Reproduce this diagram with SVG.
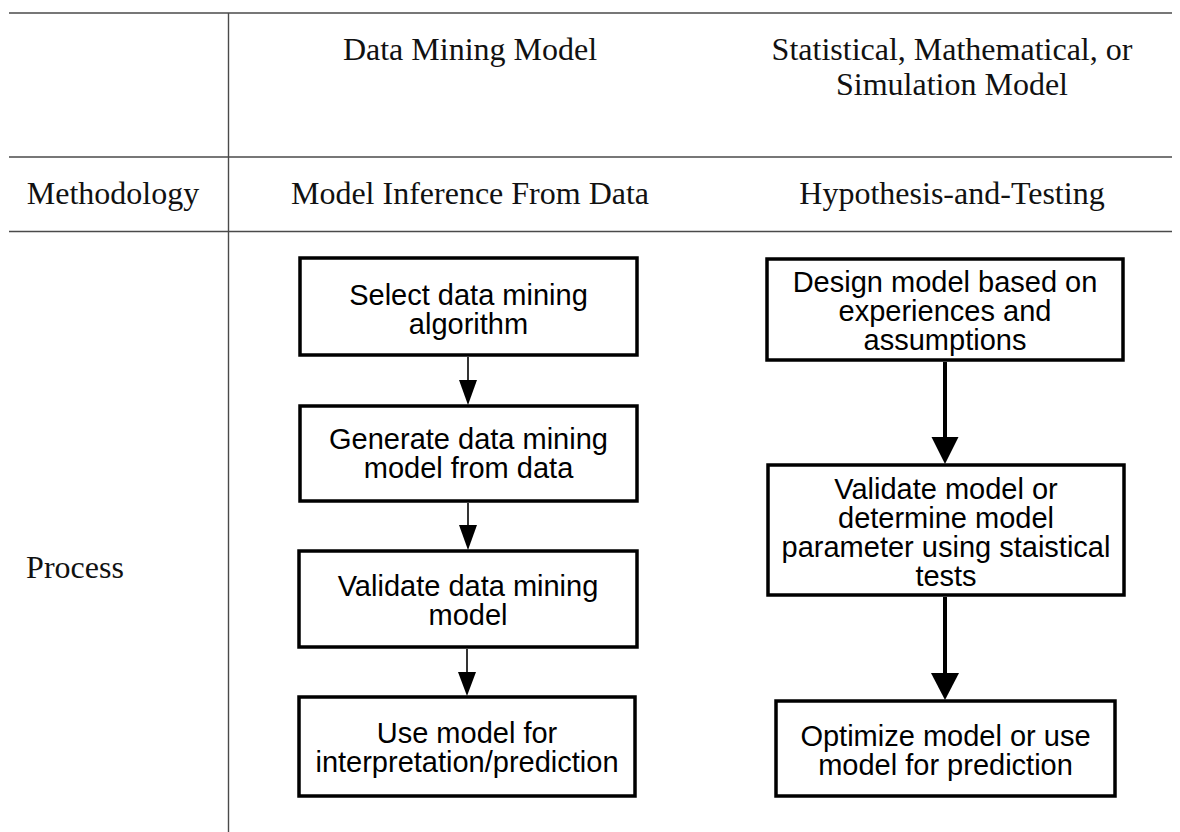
<svg xmlns="http://www.w3.org/2000/svg" width="1180" height="832" viewBox="0 0 1180 832">
  <defs>
    <style>
      .rule { stroke: #4a4a4a; stroke-width: 1.4; fill: none; }
      .cell { font-family: "Liberation Serif", "Times New Roman", serif; font-size: 32px; fill: #111; text-anchor: middle; }
      .box { fill: #fff; stroke: #000; stroke-width: 3.5; }
      .lbl { font-family: "Liberation Sans", Arial, sans-serif; font-size: 29px; fill: #000; text-anchor: middle; }
      .thin { stroke: #000; stroke-width: 1.6; fill: none; }
      .thick { stroke: #000; stroke-width: 4; fill: none; }
    </style>
  </defs>
  <rect width="1180" height="832" fill="#fff"/>

  <!-- table rules -->
  <g id="table">
    <line class="rule" x1="9" y1="13" x2="1172" y2="13"/>
    <line class="rule" x1="9" y1="157" x2="1172" y2="157"/>
    <line class="rule" x1="9" y1="231.5" x2="1172" y2="231.5"/>
    <line class="rule" x1="228.5" y1="13" x2="228.5" y2="832"/>
  </g>

  <!-- table cell texts -->
  <g id="headers">
    <text class="cell" x="470" y="60">Data Mining Model</text>
    <text class="cell" x="952" y="60">Statistical, Mathematical, or</text>
    <text class="cell" x="952" y="95">Simulation Model</text>
    <text class="cell" x="113" y="204">Methodology</text>
    <text class="cell" x="470" y="204">Model Inference From Data</text>
    <text class="cell" x="952" y="204">Hypothesis-and-Testing</text>
    <text class="cell" x="75" y="578">Process</text>
  </g>

  <!-- data mining flow -->
  <g id="dm-select">
    <rect class="box" x="300" y="258" width="337" height="97"/>
    <text class="lbl" x="468.5" y="305">Select data mining</text>
    <text class="lbl" x="468.5" y="334">algorithm</text>
  </g>
  <g id="dm-generate">
    <rect class="box" x="300" y="406" width="337" height="95"/>
    <text class="lbl" x="468.5" y="449">Generate data mining</text>
    <text class="lbl" x="468.5" y="478">model from data</text>
  </g>
  <g id="dm-validate">
    <rect class="box" x="299" y="551" width="338" height="96"/>
    <text class="lbl" x="468" y="596">Validate data mining</text>
    <text class="lbl" x="468" y="625">model</text>
  </g>
  <g id="dm-use">
    <rect class="box" x="299" y="697" width="336" height="99"/>
    <text class="lbl" x="467" y="743">Use model for</text>
    <text class="lbl" x="467" y="772">interpretation/prediction</text>
  </g>

  <!-- hypothesis-and-testing flow -->
  <g id="ht-design">
    <rect class="box" x="767" y="259" width="356" height="101"/>
    <text class="lbl" x="945" y="292">Design model based on</text>
    <text class="lbl" x="945" y="321">experiences and</text>
    <text class="lbl" x="945" y="350">assumptions</text>
  </g>
  <g id="ht-validate">
    <rect class="box" x="768" y="465" width="356" height="130"/>
    <text class="lbl" x="946" y="499">Validate model or</text>
    <text class="lbl" x="946" y="528">determine model</text>
    <text class="lbl" x="946" y="557">parameter using staistical</text>
    <text class="lbl" x="946" y="586">tests</text>
  </g>
  <g id="ht-optimize">
    <rect class="box" x="776" y="701" width="339" height="95"/>
    <text class="lbl" x="945.5" y="746">Optimize model or use</text>
    <text class="lbl" x="945.5" y="775">model for prediction</text>
  </g>

  <!-- connectors -->
  <g id="connectors">
    <line class="thin" x1="468" y1="357" x2="468" y2="382"/>
    <path d="M459,380 L477,380 L468,405 Z" fill="#000"/>
    <line class="thin" x1="468" y1="503" x2="468" y2="527"/>
    <path d="M459,525 L477,525 L468,550 Z" fill="#000"/>
    <line class="thin" x1="467" y1="649" x2="467" y2="674"/>
    <path d="M458,672 L476,672 L467,696 Z" fill="#000"/>

    <line class="thick" x1="945" y1="362" x2="945" y2="440"/>
    <path d="M931.5,437 L958.5,437 L945,464 Z" fill="#000"/>
    <line class="thick" x1="945" y1="597" x2="945" y2="676"/>
    <path d="M931,673 L959,673 L945,700 Z" fill="#000"/>
  </g>
</svg>
